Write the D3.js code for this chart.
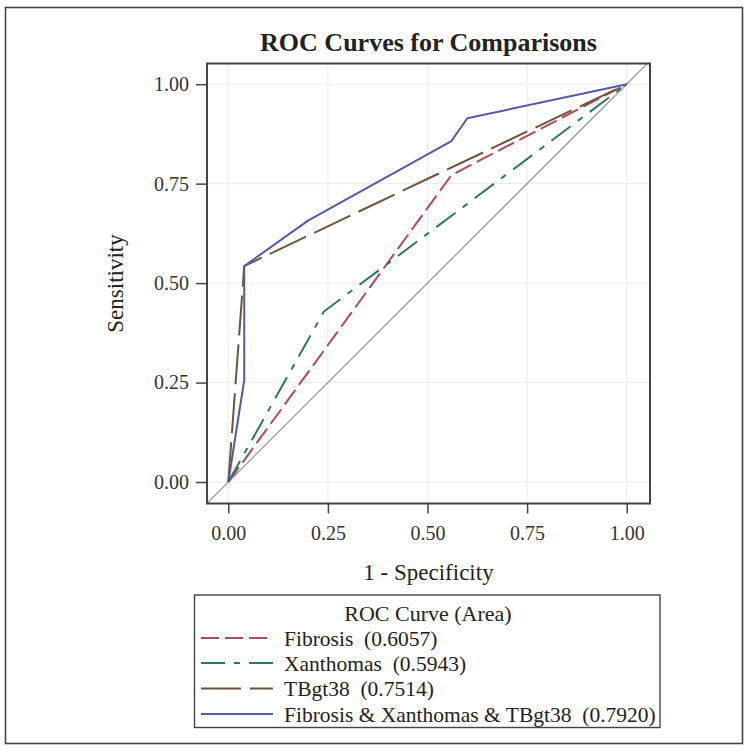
<!DOCTYPE html>
<html>
<head>
<meta charset="utf-8">
<script src="https://cdn.jsdelivr.net/npm/d3@7"></script>
<style>
  html, body { margin: 0; padding: 0; background: #fff; }
  svg { display: block; font-family: "Liberation Serif", "Times New Roman", serif; }
  text { white-space: pre; }
</style>
</head>
<body>
<svg id="chart" width="754" height="754"></svg>
<script>
// ---- Data ----
const seriesNames = ["Fibrosis", "Xanthomas", "TBgt38", "Fibrosis & Xanthomas & TBgt38"];
const seriesAreas = ["0.6057", "0.5943", "0.7514", "0.7920"];
const fibrosisX = [0, 0.56, 1];
const fibrosisY = [0, 0.7714, 1];
const xanthomasX = [0, 0.24, 1];
const xanthomasY = [0, 0.4286, 1];
const tbgt38X = [0, 0.04, 1];
const tbgt38Y = [0, 0.5429, 1];
const combinedX = [0, 0.04, 0.04, 0.20, 0.56, 0.60, 1];
const combinedY = [0, 0.2571, 0.5429, 0.6571, 0.8571, 0.9143, 1];
const xTicks = [0, 0.25, 0.5, 0.75, 1];
const yTicks = [0, 0.25, 0.5, 0.75, 1];
const xTickLabels = ["0.00", "0.25", "0.50", "0.75", "1.00"];
const yTickLabels = ["0.00", "0.25", "0.50", "0.75", "1.00"];

// ---- Styles ----
const colors = ["#B04A5E", "#2F7668", "#6E5438", "#5658AA"];
const dashes = ["18,6", "24,9,6,9", "40,9", null];

const svg = d3.select("#chart");

// Outer border
svg.append("rect").attr("x", 5.5).attr("y", 7.5).attr("width", 737).attr("height", 736)
  .attr("fill", "none").attr("stroke", "#444").attr("stroke-width", 1.6);

const plotL = 207, plotR = 650, plotT = 63.5, plotB = 503.5;
const x = d3.scaleLinear().domain([-0.0535, 1.0585]).range([plotL, plotR]);
const y = d3.scaleLinear().domain([-0.054, 1.052]).range([plotB, plotT]);

// Clip
svg.append("clipPath").attr("id", "clip").append("rect")
  .attr("x", plotL).attr("y", plotT).attr("width", plotR - plotL).attr("height", plotB - plotT);

// Gridlines
const grid = svg.append("g");
grid.selectAll(".gx").data(xTicks).enter().append("line")
  .attr("x1", d => x(d)).attr("x2", d => x(d)).attr("y1", plotT).attr("y2", plotB)
  .attr("stroke", "#ebebeb").attr("stroke-width", 1);
grid.selectAll(".gy").data(yTicks).enter().append("line")
  .attr("y1", d => y(d)).attr("y2", d => y(d)).attr("x1", plotL).attr("x2", plotR)
  .attr("stroke", "#ebebeb").attr("stroke-width", 1);

const plot = svg.append("g").attr("clip-path", "url(#clip)");

// Diagonal reference
const lo = Math.min(x.domain()[0], y.domain()[0]) - 0.01;
const hi = Math.max(x.domain()[1], y.domain()[1]) + 0.01;
plot.append("line").attr("x1", x(lo)).attr("y1", y(lo)).attr("x2", x(hi)).attr("y2", y(hi))
  .attr("stroke", "#9a9a9a").attr("stroke-width", 1.3);

const seriesX = [fibrosisX, xanthomasX, tbgt38X, combinedX];
const seriesY = [fibrosisY, xanthomasY, tbgt38Y, combinedY];
const line = d3.line().x(d => x(d[0])).y(d => y(d[1]));

seriesX.forEach((xs, i) => {
  const pts = xs.map((v, j) => [v, seriesY[i][j]]);
  const p = plot.append("path").attr("d", line(pts)).attr("fill", "none")
    .attr("stroke", colors[i]).attr("stroke-width", 2).attr("stroke-linejoin", "round");
  if (dashes[i]) p.attr("stroke-dasharray", dashes[i]);
});

// Frame
svg.append("rect").attr("x", plotL).attr("y", plotT).attr("width", plotR - plotL).attr("height", plotB - plotT)
  .attr("fill", "none").attr("stroke", "#444").attr("stroke-width", 2);

// Axes
const xAxis = d3.axisBottom(x).tickValues(xTicks).tickSize(10).tickPadding(12)
  .tickFormat((d, i) => xTickLabels[i]);
const gx = svg.append("g").attr("transform", `translate(0,${plotB})`).call(xAxis);
gx.select(".domain").remove();
gx.selectAll(".tick line").attr("stroke", "#444").attr("stroke-width", 1.5);
gx.selectAll(".tick text").attr("font-family", "Liberation Serif").attr("font-size", 20).attr("fill", "#333");

const yAxis = d3.axisLeft(y).tickValues(yTicks).tickSize(11).tickPadding(7)
  .tickFormat((d, i) => yTickLabels[i]);
const gy = svg.append("g").attr("transform", `translate(${plotL},0)`).call(yAxis);
gy.select(".domain").remove();
gy.selectAll(".tick line").attr("stroke", "#444").attr("stroke-width", 1.5);
gy.selectAll(".tick text").attr("font-family", "Liberation Serif").attr("font-size", 20).attr("fill", "#333");

// Axis labels
svg.append("text").attr("x", (plotL + plotR) / 2).attr("y", 580).attr("text-anchor", "middle")
  .attr("font-size", 23).attr("fill", "#222").text("1 - Specificity");
svg.append("text").attr("transform", `translate(123,${(plotT + plotB) / 2}) rotate(-90)`)
  .attr("text-anchor", "middle").attr("font-size", 23).attr("fill", "#222").text("Sensitivity");

// Title
svg.append("text").attr("x", (plotL + plotR) / 2).attr("y", 51).attr("text-anchor", "middle")
  .attr("font-size", 26).attr("font-weight", "bold").attr("fill", "#222").text("ROC Curves for Comparisons");

// Legend
const lg = svg.append("g");
lg.append("rect").attr("x", 194.5).attr("y", 595).attr("width", 465.5).attr("height", 132.5)
  .attr("fill", "#fff").attr("stroke", "#444").attr("stroke-width", 1.4);
lg.append("text").attr("x", 428).attr("y", 613).attr("dy", "0.35em").attr("text-anchor", "middle")
  .attr("font-size", 22).attr("fill", "#222").text("ROC Curve (Area)");
const rowY = [638, 663, 688.5, 714];
seriesNames.forEach((name, i) => {
  const l = lg.append("line").attr("x1", 201).attr("x2", 273).attr("y1", rowY[i]).attr("y2", rowY[i])
    .attr("stroke", colors[i]).attr("stroke-width", 2);
  if (dashes[i]) l.attr("stroke-dasharray", dashes[i]);
  lg.append("text").attr("x", 284).attr("y", rowY[i]).attr("dy", "0.35em")
    .attr("font-size", 21.5).attr("fill", "#222").text(name + "  (" + seriesAreas[i] + ")");
});
</script>
</body>
</html>
